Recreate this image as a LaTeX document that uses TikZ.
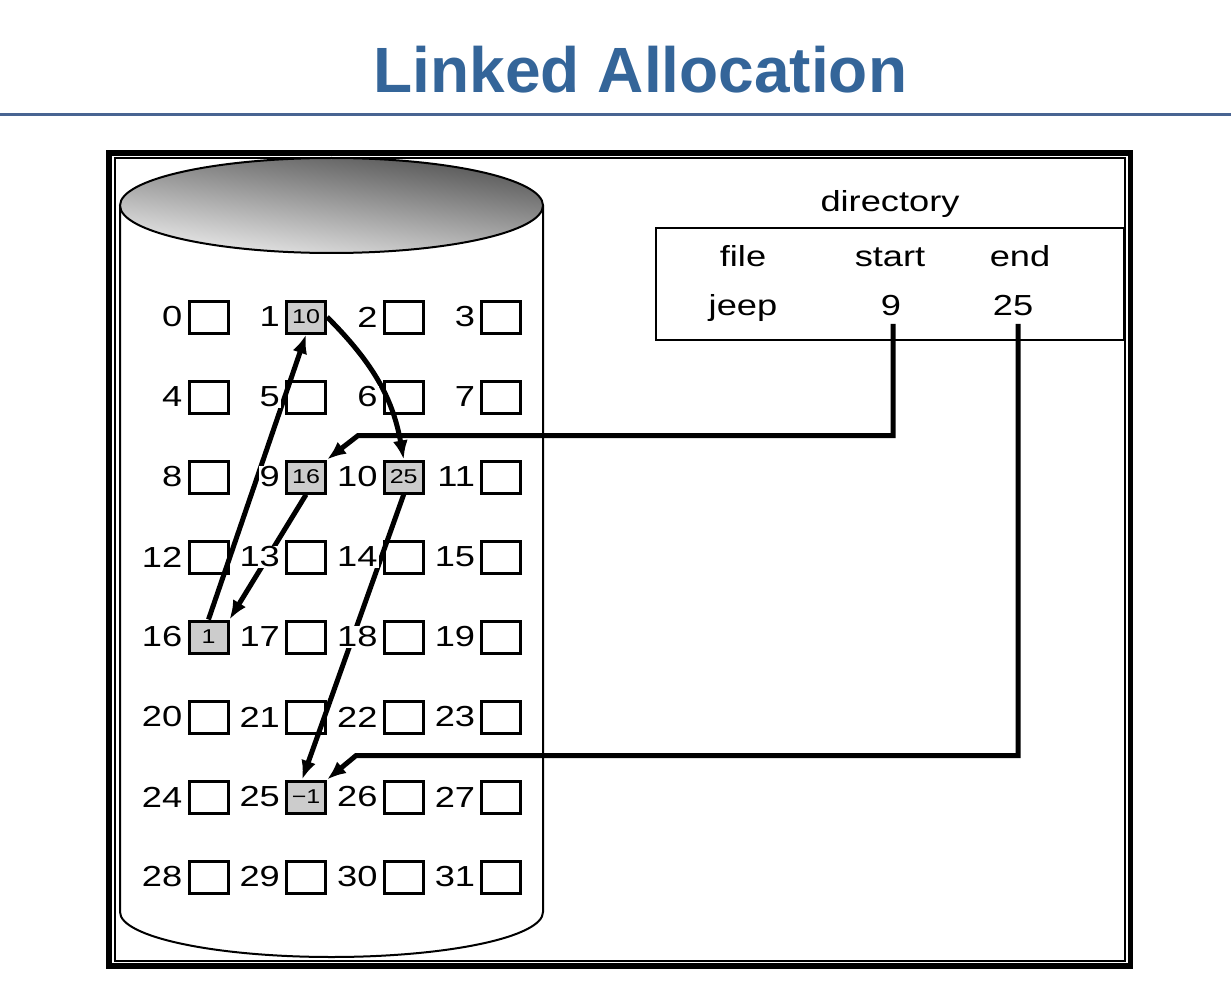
\documentclass[tikz,border=0pt]{standalone}
\usepackage{fontspec}
\setmainfont{Liberation Sans}
\newfontfamily\figfont{Liberation Sans}[FakeStretch=1.25]
\usetikzlibrary{arrows.meta,positioning}
\definecolor{slideblue}{RGB}{52,101,153}
\definecolor{ruleblue}{RGB}{72,100,146}
\begin{document}
\begin{tikzpicture}[x=1pt,y=1pt,>={Latex[length=19pt,width=15pt]},
  blk/.style={draw,line width=3pt,minimum width=39pt,minimum height=32pt,inner sep=0pt},
  used/.style={fill=black!20},
  cell 1/.style=used, cell 9/.style=used, cell 10/.style=used,
  cell 16/.style=used, cell 25/.style=used,
  val/.style={font=\figfont\fontsize{20}{20}\selectfont,inner sep=0pt},
  num/.style={font=\figfont\fontsize{29}{29}\selectfont,fill=white,inner sep=1pt},
  txt/.style={font=\figfont\fontsize{29}{29}\selectfont,anchor=base},
  ptr/.style={->,line width=5pt}]
\useasboundingbox (0,0) rectangle (1231,-992);
\node[font=\bfseries\fontsize{64}{64}\selectfont,text=slideblue,anchor=base] (title)
  at (640.5,-93) {Linked Allocation};
\draw[ruleblue,line width=3pt] (0,-115) -- (1231,-115);
\draw[line width=5.5pt] (109,-153) rectangle (1130.5,-966);
\draw[line width=2pt] (115,-158) rectangle (1125,-961);
\draw[line width=2pt] (120,-205.5) -- (120,-912)
  arc[start angle=180,end angle=360,x radius=211.5,y radius=45] -- (543,-205.5);
\shadedraw[line width=2pt,top color=black!68,bottom color=black!7,shading angle=-8]
  (331.5,-205.5) ellipse[x radius=211.5,y radius=47.5];
\foreach \i in {0,...,31}{
  \pgfmathtruncatemacro\r{\i/4}
  \pgfmathtruncatemacro\c{mod(\i,4)}
  \node[blk,cell \i/.try] (b\i) at ({208.5+97.6*\c},{-317-80*\r}) {};
}
\node[val] (v1) at (b1) {10};
\node[val] (v9) at (b9) {16};
\node[val] (v10) at (b10) {25};
\node[val] (v16) at (b16) {1};
\node[val] (v25) at (b25) {−1};
\node[txt] (dirlbl) at (890,-212) {directory};
\node[draw,line width=2pt,minimum width=468pt,minimum height=112pt,inner sep=0pt] (dir)
  at (890,-284) {};
\node[txt] (hfile) at (743,-267) {file};
\node[txt] (hstart) at (890,-267) {start};
\node[txt] (hend) at (1020,-267) {end};
\node[txt] (jeep) at (743,-315) {jeep};
\node[txt] (start) at (891,-315) {9};
\node[txt] (end) at (1013,-315) {25};
\draw[ptr] ([shift={(2,-5)}]start.south) |- ([shift={(31,24)}]b9.north east) -- (b9.north east);
\draw[ptr] ([shift={(5,-5)}]end.south) |- ([shift={(29,24)}]b25.north east) -- (b25.north east);
\draw[ptr] (b9.south) -- (b16.north east);
\draw[ptr] (b16.north) -- (b1.south);
\draw[ptr] (b1.east) to[out=-45,in=100] (b10.north);
\draw[ptr] (b10.south) -- ([xshift=-4pt]b25.north);
\foreach \i in {0,...,31}
  \node[num,left=4pt of b\i] (n\i) {\i};
\end{tikzpicture}
\end{document}
